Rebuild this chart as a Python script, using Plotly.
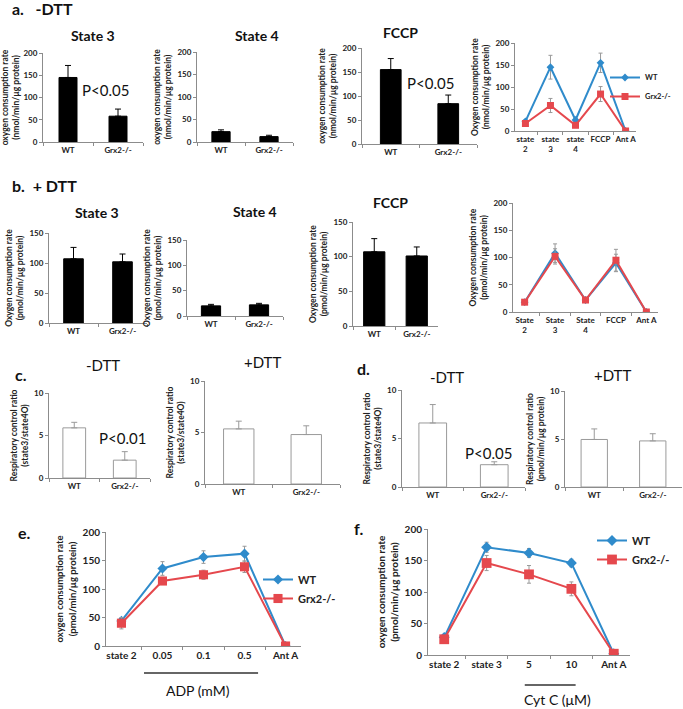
import plotly.graph_objects as go

# Datos (media y error)
groups = ["WT", "Grx2-/-"]

# a. -DTT
a_state3 = [145, 58]
a_state3_err = [27, 16]
a_state4 = [23, 12]
a_state4_err = [4, 3]
a_fccp = [155, 84]
a_fccp_err = [23, 18]
a_cats = ["state<br>2", "state<br>3", "state<br>4", "FCCP", "Ant A"]
a_wt = [22, 145, 25, 155, 0]
a_wt_err = [3, 27, 4, 22, 0]
a_ko = [17, 58, 13, 84, 0]
a_ko_err = [3, 16, 3, 17, 0]

# b. + DTT
b_state3 = [107, 102]
b_state3_err = [19, 13]
b_state4 = [20, 22]
b_state4_err = [3, 3]
b_fccp = [107, 101]
b_fccp_err = [19, 13]
b_cats = ["State<br>2", "State<br>3", "State<br>4", "FCCP", "Ant A"]
b_wt = [18, 108, 22, 90, 0]
b_wt_err = [2, 17, 2, 16, 0]
b_ko = [18, 102, 22, 95, 0]
b_ko_err = [2, 14, 2, 20, 0]

# c. / d. respiratory control ratio
c_minus = [5.9, 2.1]
c_minus_err = [0.65, 1.0]
c_plus = [5.35, 4.8]
c_plus_err = [0.75, 0.85]
d_minus = [6.6, 2.3]
d_minus_err = [1.9, 0.3]
d_plus = [4.95, 4.8]
d_plus_err = [1.1, 0.75]

# e. ADP
e_cats = ["state 2", "0.05", "0.1", "0.5", "Ant A"]
e_wt = [44, 136, 156, 162, 0]
e_wt_err = [3, 12, 11, 13, 0]
e_ko = [40, 114, 125, 139, 0]
e_ko_err = [10, 4, 8, 10, 0]

# f. Cyt C
f_cats = ["state 2", "state 3", "5", "10", "Ant A"]
f_wt = [28, 171, 162, 146, 2]
f_wt_err = [3, 8, 7, 6, 0]
f_ko = [25, 146, 128, 105, 2]
f_ko_err = [2, 12, 14, 11, 0]

W, H = 683, 709
FONT = "Lato"
AX = "#8c8c8c"
BLUE = "#2F8BCB"
RED = "#E5484D"

fig = go.Figure()
layout = {}


def xd(l, r):
    return [l / W, r / W]


def yd(t, b):
    return [1 - b / H, 1 - t / H]


def names(n):
    s = "" if n == 1 else str(n)
    return "x" + s, "y" + s, "xaxis" + s, "yaxis" + s


def axes(n, xdom, ydom, ymax, dtick, ytitle, fs=8, tfs=8.5):
    xr, yr, xk, yk = names(n)
    layout[xk] = dict(domain=xdom, anchor=yr, type="category", showline=True,
                      linecolor=AX, ticks="outside", tickson="boundaries",
                      ticklen=3, tickcolor=AX, showgrid=False, zeroline=False,
                      tickangle=0,
                      tickfont=dict(size=fs, weight="bold", color="#222"))
    layout[yk] = dict(domain=ydom, anchor=xr, range=[0, ymax], dtick=dtick,
                      showline=True, linecolor=AX, ticks="outside", ticklen=3,
                      tickcolor=AX, showgrid=False, zeroline=False,
                      tickfont=dict(size=fs, weight="bold", color="#222"),
                      title=dict(text=ytitle, standoff=4,
                                 font=dict(size=tfs, weight="bold", color="#222")))


def bar_panel(n, vals, errs, xdom, ydom, ymax, dtick, ytitle, filled=True, w=0.38):
    xr, yr, _, _ = names(n)
    col = "black" if filled else "white"
    edge = "black" if filled else "#9a9a9a"
    fig.add_trace(go.Bar(
        x=groups, y=vals, width=w, xaxis=xr, yaxis=yr, showlegend=False,
        marker=dict(color=col, line=dict(color=edge, width=1)),
        error_y=dict(type="data", array=errs, arrayminus=[0] * len(errs),
                     symmetric=False, color=edge, thickness=1, width=3)))
    axes(n, xdom, ydom, ymax, dtick, ytitle)


def line_panel(n, cats, wt, wt_err, ko, ko_err, xdom, ydom, ytitle,
               legend=None, fs=8, tfs=8.5, ms=1.0):
    xr, yr, _, _ = names(n)
    show = legend is not None
    fig.add_trace(go.Scatter(
        x=cats, y=wt, name="WT", mode="lines+markers", xaxis=xr, yaxis=yr,
        line=dict(color=BLUE, width=2), marker=dict(symbol="diamond", size=6 * ms, color=BLUE),
        error_y=dict(type="data", array=wt_err, color="#999", thickness=1, width=2),
        showlegend=show, legend=legend or "legend"))
    fig.add_trace(go.Scatter(
        x=cats, y=ko, name="Grx2-/-", mode="lines+markers", xaxis=xr, yaxis=yr,
        line=dict(color=RED, width=2), marker=dict(symbol="square", size=7 * ms, color=RED),
        error_y=dict(type="data", array=ko_err, color="#999", thickness=1, width=2),
        showlegend=show, legend=legend or "legend"))
    axes(n, xdom, ydom, 200, 50, ytitle, fs, tfs)


ya = "oxygen consumption rate<br>(nmol/min/µg protein)"
yb = "Oxygen consumption rate<br>(pmol/min/µg protein)"
yc = "Respiratory control ratio<br>(state3/state4O)"

# fila a
bar_panel(1, a_state3, a_state3_err, xd(43, 143), yd(53, 142), 200, 50, ya, w=0.36)
bar_panel(2, a_state4, a_state4_err, xd(197, 293), yd(52, 142), 200, 50, ya, w=0.38)
bar_panel(3, a_fccp, a_fccp_err, xd(362, 477), yd(48, 144), 200, 50, ya, w=0.36)
line_panel(4, a_cats, a_wt, a_wt_err, a_ko, a_ko_err, xd(515, 636), yd(43, 131),
           "Oxygen consumption rate<br>(nmol/min/µg protein)", legend="legend")

# fila b
bar_panel(5, b_state3, b_state3_err, xd(49, 147), yd(233, 323), 150, 50, yb, w=0.4)
bar_panel(6, b_state4, b_state4_err, xd(187, 283), yd(240, 316), 150, 50, yb, w=0.4)
bar_panel(7, b_fccp, b_fccp_err, xd(353, 438), yd(222, 326), 150, 50, yb, w=0.5)
line_panel(8, b_cats, b_wt, b_wt_err, b_ko, b_ko_err, xd(513, 658), yd(203, 312), yb)

# fila c / d
bar_panel(9, c_minus, c_minus_err, xd(49, 150), yd(393, 478), 10, 5, yc, filled=False, w=0.45)
bar_panel(10, c_plus, c_plus_err, xd(205, 340), yd(381, 484), 10, 5, yc, filled=False, w=0.45)
bar_panel(11, d_minus, d_minus_err, xd(402, 525), yd(390, 487), 10, 5, yc, filled=False, w=0.45)
bar_panel(12, d_plus, d_plus_err, xd(565, 682), yd(391, 487), 10, 5,
          "Respiratory control ratio<br>(pmol/min/µg protein)", filled=False, w=0.45)

# fila e / f
ye = "oxygen consumption rate<br>(pmol/min/µg protein)"
line_panel(13, e_cats, e_wt, e_wt_err, e_ko, e_ko_err, xd(106, 301), yd(532, 646), ye,
           legend="legend2", fs=10, tfs=9.5, ms=1.3)
line_panel(14, f_cats, f_wt, f_wt_err, f_ko, f_ko_err, xd(428, 630), yd(529, 655), ye,
           legend="legend3", fs=10, tfs=10, ms=1.4)

# textos
def txt(x, y, s, size, bold=True, anchor="center"):
    return dict(x=x / W, y=1 - y / H, xref="paper", yref="paper", text=s,
                showarrow=False, xanchor=anchor, yanchor="middle",
                font=dict(size=size, family=FONT, color="#111",
                          weight="bold" if bold else "normal"))

ann = [
    txt(10, 9, "a.   -DTT", 16, anchor="left"),
    txt(93, 35, "State 3", 14), txt(257, 35, "State 4", 14), txt(400, 32, "FCCP", 14),
    txt(105, 90, "P<0.05", 15, bold=False), txt(430, 83, "P<0.05", 15, bold=False),
    txt(10, 185, "b.  + DTT", 16, anchor="left"),
    txt(97, 213, "State 3", 14), txt(255, 212, "State 4", 14), txt(390, 202, "FCCP", 14),
    txt(13, 375, "c.", 16, anchor="left"),
    txt(103, 365, "-DTT", 15, bold=False), txt(262, 362, "+DTT", 15, bold=False),
    txt(122, 438, "P<0.01", 15, bold=False),
    txt(355, 368, "d.", 16, anchor="left"),
    txt(447, 377, "-DTT", 15, bold=False), txt(612, 375, "+DTT", 15, bold=False),
    txt(488, 453, "P<0.05", 15, bold=False),
    txt(16, 532, "e.", 16, anchor="left"),
    txt(198, 690, "ADP (mM)", 14, bold=False),
    txt(352, 528, "f.", 16, anchor="left"),
    txt(557, 699, "Cyt C (μM)", 14, bold=False),
]

shapes = [
    dict(type="line", xref="x13", yref="paper", x0=0.55, x1=3.33,
         y0=1 - 673 / H, y1=1 - 673 / H, line=dict(color="#333", width=1.5)),
    dict(type="line", xref="x14", yref="paper", x0=1.9, x1=3.1,
         y0=1 - 685 / H, y1=1 - 685 / H, line=dict(color="#333", width=1.5)),
]

leg = dict(bgcolor="rgba(0,0,0,0)", xanchor="left", yanchor="middle",
           tracegroupgap=0, itemwidth=30)
layout["legend"] = dict(leg, x=605 / W, y=1 - 87 / H,
                        font=dict(size=7.5, family=FONT, weight="bold", color="#222"))
layout["legend2"] = dict(leg, x=258 / W, y=1 - 589 / H,
                         font=dict(size=11, family=FONT, weight="bold", color="#222"))
layout["legend3"] = dict(leg, x=592 / W, y=1 - 550 / H,
                         font=dict(size=11, family=FONT, weight="bold", color="#222"))

fig.update_layout(**layout)
fig.update_layout(width=W, height=H,
                  margin=dict(l=0, r=0, t=0, b=0, autoexpand=False),
                  paper_bgcolor="white", plot_bgcolor="white",
                  font=dict(family=FONT, color="#222"),
                  annotations=ann, shapes=shapes)

# sin barra de herramientas y sin margen del body
fig.write_html("out.html", config={"displayModeBar": False},
               post_script="document.body.style.margin='0';")
